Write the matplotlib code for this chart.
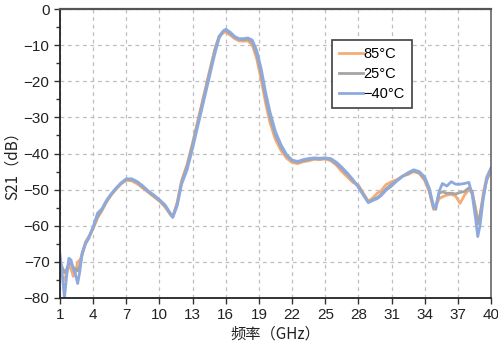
import numpy as np
import matplotlib.pyplot as plt
from matplotlib.ticker import MultipleLocator

plt.rcParams['font.family'] = ['Liberation Sans', 'Noto Sans CJK SC', 'DejaVu Sans']

freq = [1.0, 1.2, 1.4, 1.6, 1.8, 2.0, 2.2, 2.4, 2.6, 2.8,
        3.0, 3.3, 3.6, 4.0, 4.4, 4.8, 5.2, 5.6, 6.0, 6.5,
        7.0, 7.5, 8.0, 8.5, 9.0, 9.5, 10.0, 10.5, 11.0, 11.2,
        11.6, 12.0, 12.5, 13.0, 13.5, 14.0, 14.5, 15.0, 15.4, 15.8,
        16.0, 16.4, 16.8, 17.2, 17.6, 18.0, 18.4, 18.8, 19.2, 19.6,
        20.0, 20.5, 21.0, 21.5, 22.0, 22.5, 23.0, 23.5, 24.0, 24.5,
        25.0, 25.5, 26.0, 26.5, 27.0, 27.5, 28.0, 28.5, 28.9, 29.3,
        29.7, 30.0, 30.5, 31.0, 31.5, 32.0, 32.5, 33.0, 33.5, 34.0,
        34.4, 34.8, 35.0, 35.3, 35.6, 36.0, 36.4, 36.8, 37.2, 37.6,
        38.0, 38.3, 38.6, 38.8, 39.0, 39.3, 39.6, 40.0]

s21_85 = [-72, -74, -75, -73, -71, -72, -74, -73, -70, -69.5,
          -68, -64.5, -63, -60.8, -57.8, -55.8, -53.5, -51.6, -50.1, -48.5,
          -47.4, -47.6, -48.4, -49.6, -50.8, -52, -53.2, -54.8, -57, -57.6,
          -53.5, -47.5, -43, -37, -30.5, -24, -17.5, -11.3, -7.6, -6.5,
          -6.4, -7.2, -8.2, -8.8, -8.9, -8.8, -10, -13.8, -19.5, -26,
          -31.5, -36.2, -39.2, -41.3, -42.5, -42.8, -42.3, -42, -41.6, -41.7,
          -41.5, -42, -43.2, -45, -46.5, -48, -48.8, -51.3, -53.2, -52.3,
          -51, -50.5, -48.6, -47.8, -47.2, -46.2, -45.8, -45, -45.5, -47.5,
          -50.5, -55.5, -54.5, -52.5, -52, -51.5, -51.3, -51.8, -53.8, -51.5,
          -50, -51, -55, -58.5, -57.5, -51, -46.5, -44]

s21_25 = [-70, -71.5, -73, -72, -70.5, -70.5, -71.5, -72, -72.5, -71,
          -68, -65, -63.5, -60.5, -57.5, -55.5, -53.3, -51.5, -50, -48.3,
          -47.2, -47.2, -48, -49.3, -50.6, -51.8, -53, -54.5, -56.8, -57.5,
          -54, -48, -43.5, -37.5, -31, -24.5, -18, -11.5, -7.5, -6,
          -5.9, -6.8, -7.8, -8.4, -8.5, -8.3, -9.2, -12.5, -18, -24.5,
          -30, -35, -38.3, -40.6, -42, -42.4, -42, -41.7, -41.4, -41.5,
          -41.3, -41.7, -42.8, -44.3, -45.8, -47.5, -49, -51.5, -53.5, -52.8,
          -52.2, -51.5, -49.8, -48.5, -47.5, -46.3, -45.5, -44.8, -45.3, -47,
          -50, -55, -54.5, -51, -50.6, -51, -51, -51.2, -50.8, -50.5,
          -49.5, -50.5, -56, -59.5, -57, -52, -47.5, -44.5]

s21_m40 = [-68, -73.5, -80, -74, -69, -69.5, -72, -73.5, -76, -72.5,
           -67.5, -65, -63.3, -60.3, -56.5, -55.3, -53, -51.3, -49.8, -48.2,
           -47, -47, -47.8, -49, -50.4, -51.5, -52.8, -54.2, -56.6, -57.7,
           -54.5, -48.5, -44.5, -38.5, -32, -25.5, -19, -12.5, -8, -6,
           -5.6, -6.4, -7.6, -8.2, -8.2, -8, -8.6, -11.5, -16.5, -23,
           -28.5, -34, -37.6, -40.3, -41.8, -42.2, -41.7, -41.4, -41.2, -41.3,
           -41.2, -41.4, -42.4, -43.8, -45.4, -47.2, -49.4, -51.8, -53.6, -53,
           -52.5, -51.8, -50.2, -49, -47.5, -46.3, -45.3, -44.5, -45, -46.5,
           -49.5, -54.5, -55.5, -50.5, -48.3, -49, -47.8, -48.5, -48.5, -48.3,
           -48, -51.5, -58, -63, -60, -52.5, -47, -44]

labels = ['85°C', '25°C', '−40°C']
colors = ['#f4ac78', '#a5a5a5', '#8eaadc']

fig = plt.figure(figsize=(4.98, 3.48), dpi=100)
ax = fig.add_axes([0.1205, 0.1437, 0.8655, 0.8303])

for ys, lab, c in zip([s21_85, s21_25, s21_m40], labels, colors):
    ax.plot(freq, ys, color=c, lw=2.0, label=lab, solid_joinstyle='round')

ax.set_xlim(1, 40)
ax.set_ylim(-80, 0)
ax.set_xticks(np.arange(1, 41, 3))
ax.set_yticks(np.arange(-80, 1, 10))
ax.yaxis.set_minor_locator(MultipleLocator(5))
ax.tick_params(axis='both', labelsize=11, direction='out', length=4, width=1,
               color='#333333', labelcolor='#222222')
ax.tick_params(axis='y', which='minor', length=3, width=1, color='#333333')
ax.grid(True, which='major', ls=(0, (3, 3)), color='#bfbfbf', lw=0.9)

for side in ['left', 'bottom']:
    ax.spines[side].set_color('#222222')
    ax.spines[side].set_linewidth(1.3)
ax.spines['top'].set_color('#555555')
ax.spines['top'].set_linewidth(1.6)
ax.spines['right'].set_color('#666666')
ax.spines['right'].set_linewidth(1.2)

ax.set_xlabel('频率（GHz）', fontsize=11, family=['Noto Sans CJK SC'], labelpad=2,
              color='#222222')
ax.set_ylabel('S21（dB）', fontsize=11, family=['Noto Sans CJK SC'], color='#222222')
ax.yaxis.set_label_coords(-0.092, 0.47)

leg = ax.legend(loc='upper left', bbox_to_anchor=(0.631, 0.893), borderaxespad=0,
                fancybox=False, framealpha=1, edgecolor='#404040', fontsize=10.5,
                handlelength=1.6, handletextpad=0.05, labelspacing=0.4,
                borderpad=0.5)
leg.get_frame().set_linewidth(1.2)

fig.savefig('out.png', dpi=100)
